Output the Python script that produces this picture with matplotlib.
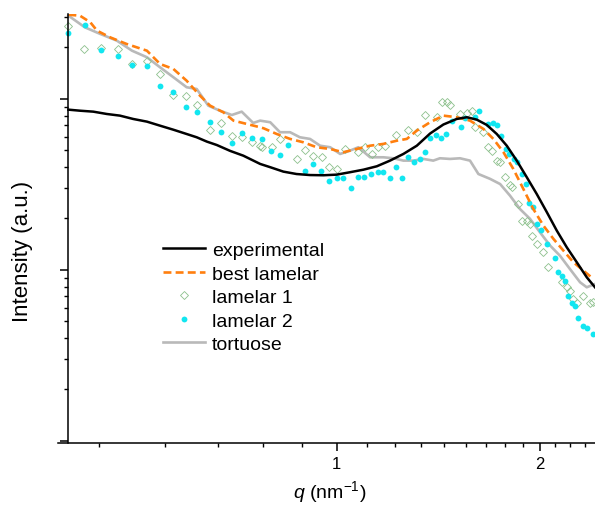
import matplotlib
matplotlib.use("Agg")
import matplotlib.pyplot as plt
from matplotlib.ticker import FixedLocator, FixedFormatter, NullFormatter, LogLocator

plt.rcParams['font.family'] = ['Liberation Sans', 'DejaVu Sans']
plt.rcParams['mathtext.fontset'] = 'custom'
plt.rcParams['mathtext.rm'] = 'Liberation Sans'
plt.rcParams['mathtext.it'] = 'Liberation Sans:italic'

# experimental curve
q_exp = [0.40, 0.416, 0.4355, 0.456, 0.477, 0.499, 0.523, 0.547, 0.5725, 0.599, 0.620, 0.642,
         0.664, 0.695, 0.727, 0.770, 0.797, 0.8335, 0.872, 0.913, 0.956, 1.0, 1.047, 1.096,
         1.147, 1.200, 1.256, 1.315, 1.376, 1.440, 1.507, 1.560, 1.614, 1.670, 1.728, 1.788,
         1.850, 1.915, 1.981, 2.050, 2.121, 2.194, 2.271, 2.350, 2.417]
i_exp = [86.6, 85.4, 84.3, 81.7, 79.9, 76.4, 73.7, 69.8, 66.1, 62.4, 59.7, 56.3,
         53.8, 49.7, 46.6, 41.7, 39.9, 37.6, 36.4, 35.9, 35.8, 36.1, 37.3, 38.6,
         40.4, 43.6, 47.7, 53.3, 62.8, 70.9, 76.4, 78.2, 75.7, 70.5, 62.4, 53.3,
         43.6, 34.8, 27.8, 21.8, 17.0, 13.6, 11.1, 9.06, 7.92]

# best lamelar fit
q_best = [0.40, 0.416, 0.431, 0.441, 0.461, 0.488, 0.523, 0.547, 0.5725, 0.599, 0.627, 0.649,
          0.679, 0.703, 0.736, 0.770, 0.779, 0.815, 0.853, 0.8925, 0.934, 0.978, 1.023, 1.071,
          1.121, 1.173, 1.228, 1.271, 1.315, 1.376, 1.440, 1.507, 1.577, 1.651, 1.708, 1.768,
          1.829, 1.892, 1.958, 2.026, 2.097, 2.170, 2.245, 2.323, 2.404]
i_best = [311, 307, 281, 251, 229.5, 209.7, 191.6, 160.2, 149.8, 127.9, 104.5, 91.4,
          83.6, 74.7, 71.4, 68.3, 67.4, 62.4, 58.4, 55.8, 52.2, 51.0, 48.8, 51.0,
          53.3, 54.6, 57.0, 58.4, 65.3, 73.1, 79.9, 78.2, 74.7, 66.8, 58.4, 48.8,
          38.9, 29.8, 22.7, 18.2, 15.2, 12.97, 11.1, 9.91, 8.86]

# tortuose model
q_tort = [0.40, 0.423, 0.446, 0.472, 0.497, 0.523, 0.547, 0.5725, 0.599, 0.620, 0.645, 0.671,
          0.699, 0.723, 0.752, 0.770, 0.797, 0.824, 0.853, 0.882, 0.913, 0.945, 0.978, 1.012,
          1.047, 1.077, 1.121, 1.173, 1.214, 1.256, 1.300, 1.345, 1.391, 1.423, 1.473, 1.524,
          1.577, 1.623, 1.689, 1.748, 1.808, 1.871, 1.936, 2.003, 2.073, 2.145, 2.220, 2.297,
          2.350, 2.417]
i_tort = [307, 262.6, 240, 219.3, 191.6, 175.4, 153.2, 134, 117.1, 114.4, 91.4, 85.4,
          80.6, 84.3, 72.4, 74.7, 73.1, 63.9, 63.9, 59.7, 58.4, 53.3, 52.2, 47.7,
          49.9, 52.2, 45.6, 45.6, 45.0, 43.6, 43.6, 44.6, 43.6, 45.0, 44.6, 45.0,
          43.6, 36.4, 34.1, 31.8, 27.2, 22.7, 19.9, 16.6, 13.9, 12.1, 10.1, 8.47,
          7.92, 8.28]

# lamelar 1 (open diamonds)
q_lam1 = [0.40, 0.422, 0.447, 0.473, 0.497, 0.523, 0.547, 0.5725, 0.598, 0.621, 0.649, 0.673,
          0.699, 0.723, 0.748, 0.770, 0.774, 0.801, 0.824, 0.872, 0.898, 0.9235, 0.950, 0.975,
          1.002, 1.029, 1.077, 1.102, 1.127, 1.153, 1.180, 1.224, 1.278, 1.315, 1.353, 1.407,
          1.432, 1.457, 1.473, 1.524, 1.560, 1.586, 1.604, 1.651, 1.679, 1.699, 1.728, 1.748,
          1.778, 1.808, 1.819, 1.861, 1.882, 1.915, 1.936, 1.947, 1.981, 2.026, 2.061, 2.158,
          2.194, 2.220, 2.245, 2.271, 2.323, 2.377, 2.404]
i_lam1 = [268.4, 196.1, 197.9, 196.1, 160.2, 167.5, 140, 105.5, 103.7, 92.2, 66.1, 72.4,
          60.5, 59.7, 56.3, 52.9, 52.2, 52.2, 58.4, 44.6, 50.3, 46.6, 45.6, 39.9,
          38.9, 51.0, 48.8, 52.2, 47.7, 52.2, 53.3, 61.6, 66.1, 63.9, 80.6, 78.2,
          96.4, 96.4, 92.2, 81.7, 82.8, 84.7, 68.3, 63.9, 52.2, 49.9, 43.6, 42.6,
          34.8, 31.4, 30.4, 24.3, 19.4, 19.4, 18.6, 15.9, 14.2, 12.7, 10.4, 8.47,
          7.92, 7.57, 6.77, 6.41, 7.07, 6.41, 6.47]

# lamelar 2 (filled dots)
q_lam2 = [0.40, 0.423, 0.447, 0.473, 0.497, 0.523, 0.547, 0.5725, 0.598, 0.621, 0.649, 0.673,
          0.699, 0.723, 0.748, 0.774, 0.7985, 0.824, 0.848, 0.898, 0.9235, 0.948, 0.974, 1.0,
          1.023, 1.049, 1.075, 1.099, 1.125, 1.151, 1.173, 1.200, 1.225, 1.252, 1.278, 1.303,
          1.329, 1.353, 1.376, 1.404, 1.427, 1.453, 1.482, 1.528, 1.551, 1.604, 1.628, 1.679,
          1.708, 1.731, 1.753, 1.783, 1.803, 1.833, 1.854, 1.882, 1.910, 1.932, 1.954, 1.985,
          2.011, 2.054, 2.109, 2.133, 2.158, 2.182, 2.207, 2.233, 2.258, 2.284, 2.318, 2.350,
          2.399]
i_lam2 = [243.2, 270.9, 193.4, 177.8, 158.0, 156.5, 119.6, 109.4, 89.4, 84.3, 73.1, 64.4,
          55.3, 63.0, 58.9, 58.4, 49.9, 47.0, 54.0, 37.8, 41.7, 38.1, 33.0, 34.5,
          34.5, 30.2, 35.1, 35.2, 36.4, 37.3, 37.3, 34.5, 39.9, 34.4, 46.0, 43.0,
          44.6, 49.2, 58.9, 61.6, 58.9, 62.4, 74.7, 68.3, 77.1, 78.2, 85.4, 71.4,
          72.4, 70.7, 60.5, 51.0, 47.7, 44.6, 42.6, 36.4, 31.8, 24.7, 23.3, 18.6,
          17.2, 14.2, 11.7, 9.69, 9.26, 8.66, 7.02, 6.41, 6.13, 5.22, 4.72, 4.56,
          4.22]

fig = plt.figure(figsize=(5.95, 5.06), dpi=100)
ax = fig.add_axes([58 / 595, 62 / 506, 537 / 595, 429 / 506])

l_tort, = ax.plot(q_tort, i_tort, color='#b9b9b9', lw=1.9, label='tortuose')
l_lam1, = ax.plot(q_lam1, i_lam1, ls='none', marker='D', ms=3.6, mfc='none',
                  mec='#8cc08c', mew=0.6, label='lamelar 1')
l_lam2, = ax.plot(q_lam2, i_lam2, ls='none', marker='o', ms=4.2, color='#12e6f0',
                  mec='none', label='lamelar 2')
l_best, = ax.plot(q_best, i_best, color='#ff7f0e', lw=1.9, ls=(0, (3, 1.6)), label='best lamelar')
l_exp, = ax.plot(q_exp, i_exp, color='black', lw=1.8, label='experimental')

ax.set_xscale('log')
ax.set_yscale('log')
ax.set_xlim(0.386, 2.417)
ax.set_ylim(0.973, 314)

ax.spines['top'].set_visible(False)
ax.spines['right'].set_visible(False)
ax.spines['left'].set_position(('data', 0.4))
for s in ['left', 'bottom']:
    ax.spines[s].set_linewidth(1.1)

ax.xaxis.set_major_locator(FixedLocator([1, 2]))
ax.xaxis.set_major_formatter(FixedFormatter(['1', '2']))
ax.xaxis.set_minor_locator(FixedLocator([n / 9 for n in range(4, 22) if n not in (9, 18)]))
ax.xaxis.set_minor_formatter(NullFormatter())
ax.yaxis.set_major_locator(LogLocator(base=10))
ax.yaxis.set_minor_locator(LogLocator(base=10, subs=range(2, 10)))
ax.yaxis.set_major_formatter(NullFormatter())
ax.yaxis.set_minor_formatter(NullFormatter())
ax.tick_params(which='major', direction='out', length=5.5, width=1.1, labelsize=12, pad=4)
ax.tick_params(which='minor', direction='out', length=3, width=1.0)

ax.set_xlabel(r'$q$ (nm$^{\mathregular{-1}}$)', fontsize=14, va='center')
ax.xaxis.set_label_coords(0.5065, -0.112)
ax.set_ylabel('Intensity (a.u.)', fontsize=16, va='center')
ax.yaxis.set_label_coords(-0.067, 0.45)

ax.legend(handles=[l_exp, l_best, l_lam1, l_lam2, l_tort], loc='upper left',
          bbox_to_anchor=(149 / 595, 1 - 229 / 506), bbox_transform=fig.transFigure,
          frameon=False, fontsize=14, handlelength=2.2, handletextpad=0.34,
          labelspacing=0.3, borderpad=0.2)

fig.savefig('out.png', dpi=100)
